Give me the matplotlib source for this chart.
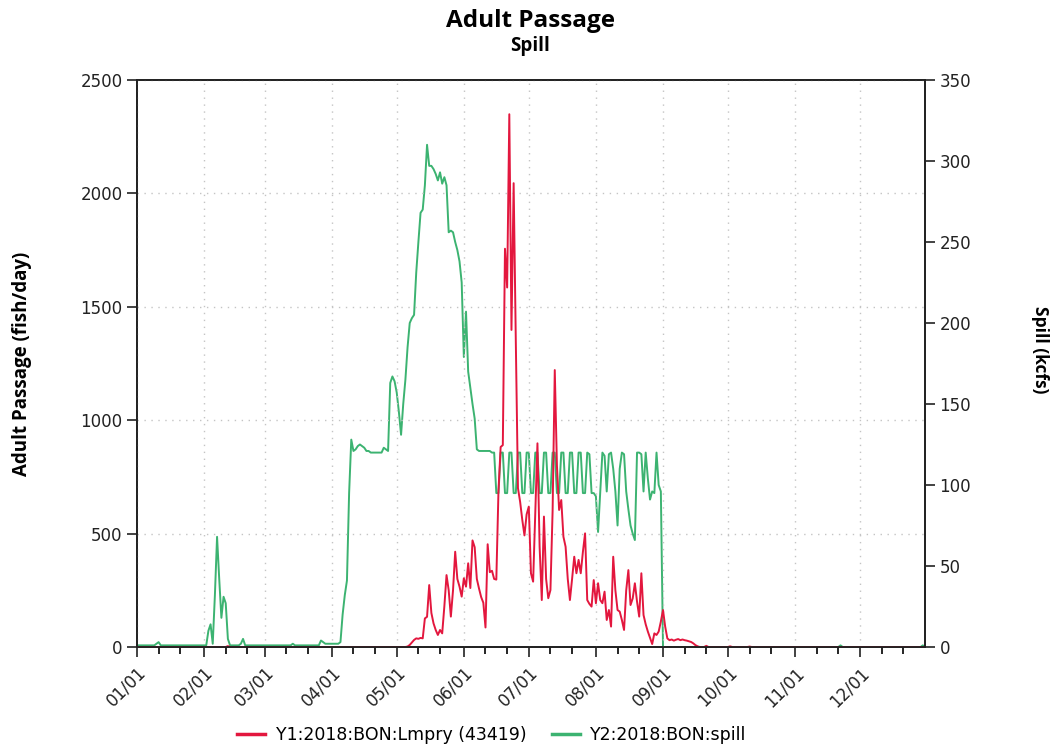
import matplotlib
matplotlib.use("Agg")
import matplotlib.pyplot as plt
from matplotlib.lines import Line2D
import numpy as np

# daily values, 2018, one list per month
# Y2: spill (kcfs)
spill_jan = [1, 1, 1, 1, 1, 1, 1, 1, 1, 2, 3, 1, 1, 1, 1, 1, 1, 1, 1, 1, 1, 1, 1, 1, 1, 1, 1, 1, 1, 1, 1]
spill_feb = [1, 1, 10, 14, 2, 32, 68, 42, 18, 31, 27, 5, 1, 1, 1, 1, 1, 2, 5, 1, 1, 1, 1, 1, 1, 1, 1, 1]
spill_mar = [1, 1, 1, 1, 1, 1, 1, 1, 1, 1, 1, 1, 1, 2, 1, 1, 1, 1, 1, 1, 1, 1, 1, 1, 1, 1, 4, 3, 2, 2, 2]
spill_apr = [2, 2, 2, 2, 3, 20, 32, 41, 95, 128, 121, 122, 124, 125, 124, 123, 121, 121, 120, 120,
             120, 120, 120, 120, 123, 122, 121, 163, 167, 164]
spill_may = [157, 145, 131, 150, 165, 185, 200, 203, 205, 231, 250, 268, 270, 285, 310, 297, 297, 295,
             292, 288, 293, 286, 290, 285, 256, 257, 256, 250, 245, 238, 225]
spill_jun = [179, 207, 170, 160, 150, 141, 122, 121, 121, 121, 121, 121, 121, 120, 120, 95, 95, 120,
             120, 95, 95, 120, 120, 95, 95, 120, 120, 95, 95, 120]
spill_jul = [120, 95, 95, 120, 120, 95, 95, 120, 120, 95, 95, 120, 120, 95, 95, 120, 120, 95, 95, 120,
             120, 95, 95, 120, 120, 95, 95, 120, 119, 95, 95]
spill_aug = [93, 71, 95, 120, 118, 96, 119, 120, 110, 96, 75, 110, 120, 119, 96, 85, 75, 70, 66, 120,
             120, 119, 96, 120, 104, 91, 96, 95, 120, 100, 96]
spill_sep = [0] * 30
spill_oct = [0] * 31
spill_nov = [0] * 21 + [1] + [0] * 8
spill_dec = [0] * 29 + [1, 0]

# Y1: lamprey adult passage (fish/day)
lmpry_jan = [0] * 31
lmpry_feb = [0] * 11 + [4] + [0] * 16
lmpry_mar = [0] * 31
lmpry_apr = [0] * 30
lmpry_may = [0, 0, 0, 0, 0, 2, 9, 20, 31, 38, 36, 40, 38, 126, 133, 273, 150, 104, 75, 53, 75, 60,
             180, 317, 250, 134, 250, 420, 300, 266, 222]
lmpry_jun = [303, 266, 369, 260, 470, 440, 300, 258, 220, 195, 86, 453, 330, 336, 300, 297, 690, 882,
             890, 1756, 1585, 2349, 1398, 2045, 1350, 700, 640, 560, 492, 585]
lmpry_jul = [619, 325, 288, 600, 898, 442, 207, 575, 300, 215, 251, 600, 1221, 800, 604, 648, 486, 442,
             300, 207, 300, 398, 325, 384, 325, 420, 501, 207, 190, 178, 295]
lmpry_aug = [193, 281, 207, 193, 244, 119, 163, 90, 398, 250, 163, 156, 119, 75, 250, 339, 185, 214,
             281, 200, 134, 325, 141, 100, 68, 40, 13, 60, 53, 68, 112]
lmpry_sep = [163, 90, 38, 30, 33, 28, 32, 35, 30, 33, 30, 28, 25, 22, 16, 8, 3, 0, 0, 0, 5, 0, 0, 0,
             0, 0, 0, 0, 0, 0]
lmpry_oct = [0, 3, 0, 0, 0, 0, 0, 0, 0, 0, 2] + [0] * 20
lmpry_nov = [0] * 30
lmpry_dec = [0] * 31

spill = spill_jan + spill_feb + spill_mar + spill_apr + spill_may + spill_jun + \
    spill_jul + spill_aug + spill_sep + spill_oct + spill_nov + spill_dec
lmpry = lmpry_jan + lmpry_feb + lmpry_mar + lmpry_apr + lmpry_may + lmpry_jun + \
    lmpry_jul + lmpry_aug + lmpry_sep + lmpry_oct + lmpry_nov + lmpry_dec

month_labels = ["01/01", "02/01", "03/01", "04/01", "05/01", "06/01",
                "07/01", "08/01", "09/01", "10/01", "11/01", "12/01"]
month_len = [31, 28, 31, 30, 31, 30, 31, 31, 30, 31, 30, 31]

red = "#e3173e"
green = "#3cb371"

days = np.arange(len(spill))
month_start = np.concatenate([[0], np.cumsum(month_len)[:-1]])
minor_days = np.concatenate([month_start + 10, month_start + 20])

fig = plt.figure(figsize=(10.56, 7.49), dpi=100)
ax = fig.add_axes([0.1297, 0.1362, 0.7462, 0.757])
ax2 = ax.twinx()
ax.set_zorder(ax2.get_zorder() + 1)
ax.patch.set_visible(False)

ax2.plot(days, spill, color=green, linewidth=1.4)
ax.plot(days, lmpry, color=red, linewidth=1.4)

ax.set_xlim(0, 364)
ax.set_ylim(0, 2500)
ax2.set_ylim(0, 350)
ax.set_yticks(np.arange(0, 2501, 500))
ax2.set_yticks(np.arange(0, 351, 50))
ax.set_xticks(month_start)
ax.set_xticklabels(month_labels, rotation=45, ha="right", rotation_mode="anchor")
ax.set_xticks(minor_days, minor=True)

# dotted grid
ax.grid(True, which="major", color="#c4c4c4", linestyle=(0, (1, 4)), linewidth=1.0)

for a in (ax, ax2):
    for s in a.spines.values():
        s.set_color("#222222")
        s.set_linewidth(1.3)
    a.tick_params(which="major", direction="out", length=7, width=1.2, labelsize=12, colors="#222222")
    a.tick_params(which="minor", direction="out", length=5, width=1.2)
ax.tick_params(axis="x", pad=5)

fig.text(0.502, 0.972, "Adult Passage", ha="center", va="center",
         fontsize=17.5, fontweight="bold", family="Open Sans")
fig.text(0.502, 0.939, "Spill", ha="center", va="center",
         fontsize=13.5, fontweight="bold", family="Open Sans")
fig.text(0.021, 0.514, "Adult Passage (fish/day)", rotation=90, ha="center", va="center",
         fontsize=13.5, fontweight="bold", family="Open Sans")
fig.text(0.985, 0.533, "Spill (kcfs)", rotation=270, ha="center", va="center",
         fontsize=12.5, fontweight="bold", family="Open Sans")

handles = [Line2D([], [], color=red, linewidth=2.5), Line2D([], [], color=green, linewidth=2.5)]
fig.legend(handles, ["Y1:2018:BON:Lmpry (43419)", "Y2:2018:BON:spill"],
           loc="center", bbox_to_anchor=(0.466, 0.019), ncol=2, frameon=False,
           fontsize=12.5, handlelength=1.6, columnspacing=1.5, handletextpad=0.6)

fig.savefig("out.png", dpi=100)
